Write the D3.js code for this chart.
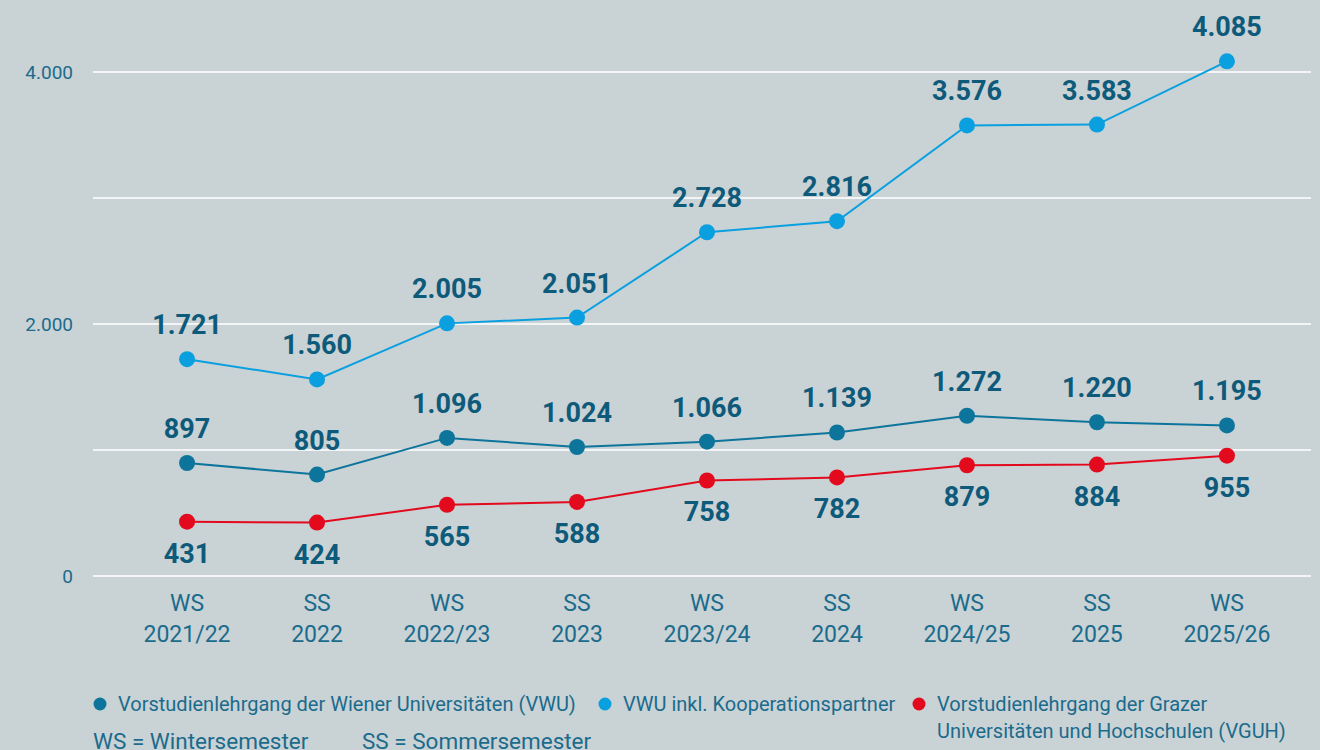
<!DOCTYPE html>
<html>
<head>
<meta charset="utf-8">
<script src="https://cdn.jsdelivr.net/npm/d3@7"></script>
<style>
  html, body { margin: 0; padding: 0; background: #c9d2d5; }
  svg { display: block; font-family: Roboto, "Noto Sans", sans-serif; }
</style>
</head>
<body>
<svg id="chart"></svg>
<script>
const TERMS = ["WS|2021/22", "SS|2022", "WS|2022/23", "SS|2023", "WS|2023/24", "SS|2024", "WS|2024/25", "SS|2025", "WS|2025/26"];
const VWU = [897, 805, 1096, 1024, 1066, 1139, 1272, 1220, 1195];
const VWU_KOOP = [1721, 1560, 2005, 2051, 2728, 2816, 3576, 3583, 4085];
const VGUH = [431, 424, 565, 588, 758, 782, 879, 884, 955];
const Y_TICKS = [0, 2000, 4000];
const GRID_TICKS = [0, 1000, 2000, 3000, 4000];

const width = 1320, height = 750;
const margin = { top: 72, right: 9, bottom: 174, left: 93 };

const labelColor = "#0d5a7a";
const textColor = "#1b6b8c";

const svg = d3.select("#chart")
  .attr("width", width)
  .attr("height", height);

svg.append("rect").attr("width", width).attr("height", height).attr("fill", "#c9d2d5");

// points sit a little right of the grid centre
const x = d3.scalePoint()
  .domain(TERMS)
  .range([margin.left + 5, width - margin.right + 5])
  .padding(0.685);

const y = d3.scaleLinear()
  .domain([0, 4000])
  .range([height - margin.bottom, margin.top]);

const fmt = d3.formatLocale({ decimal: ",", thousands: ".", grouping: [3], currency: ["", "€"] }).format(",d");

// gridlines
svg.append("g")
  .selectAll("line")
  .data(GRID_TICKS)
  .join("line")
  .attr("x1", margin.left)
  .attr("x2", width - margin.right)
  .attr("y1", d => y(d))
  .attr("y2", d => y(d))
  .attr("stroke", "#ffffff")
  .attr("stroke-width", 1.5);

// y axis labels
svg.append("g")
  .selectAll("text")
  .data(Y_TICKS)
  .join("text")
  .attr("x", 73)
  .attr("y", d => y(d))
  .attr("dy", "0.35em")
  .attr("text-anchor", "end")
  .attr("fill", textColor)
  .style("font-size", "19px")
  .text(d => fmt(d));

// x axis labels, two lines
const xl = svg.append("g")
  .selectAll("text")
  .data(TERMS)
  .join("text")
  .attr("text-anchor", "middle")
  .attr("fill", textColor)
  .style("font-size", "23px");
xl.append("tspan")
  .attr("x", d => x(d))
  .attr("y", 611)
  .text(d => d.split("|")[0]);
xl.append("tspan")
  .attr("x", d => x(d))
  .attr("y", 642)
  .text(d => d.split("|")[1]);

const series = [
  { name: "VWU", values: VWU, color: "#0d759c", labelDy: -25 },
  { name: "VWU_KOOP", values: VWU_KOOP, color: "#0aa0e0", labelDy: -25 },
  { name: "VGUH", values: VGUH, color: "#e30a1d", labelDy: 41 }
];

const line = d3.line()
  .x((d, i) => x(TERMS[i]))
  .y(d => y(d));

series.forEach(s => {
  const g = svg.append("g");
  g.append("path")
    .datum(s.values)
    .attr("fill", "none")
    .attr("stroke", s.color)
    .attr("stroke-width", 2)
    .attr("d", line);
  g.selectAll("circle")
    .data(s.values)
    .join("circle")
    .attr("cx", (d, i) => x(TERMS[i]))
    .attr("cy", d => y(d))
    .attr("r", 8)
    .attr("fill", s.color);
  g.selectAll("text")
    .data(s.values)
    .join("text")
    .attr("x", (d, i) => x(TERMS[i]))
    .attr("y", d => y(d) + s.labelDy)
    .attr("text-anchor", "middle")
    .attr("fill", labelColor)
    .style("font-size", "27px")
    .style("font-weight", "bold")
    .text(d => fmt(d));
});

// legend
const legendItems = [
  { cx: 100, lines: ["Vorstudienlehrgang der Wiener Universitäten (VWU)"], color: "#0d759c" },
  { cx: 605, lines: ["VWU inkl. Kooperationspartner"], color: "#0aa0e0" },
  { cx: 919, lines: ["Vorstudienlehrgang der Grazer", "Universitäten und Hochschulen (VGUH)"], color: "#e30a1d" }
];
const legend = svg.append("g");
legendItems.forEach(item => {
  legend.append("circle")
    .attr("cx", item.cx)
    .attr("cy", 704)
    .attr("r", 6.5)
    .attr("fill", item.color);
  const t = legend.append("text")
    .attr("fill", textColor)
    .style("font-size", "20px");
  item.lines.forEach((l, i) => {
    t.append("tspan")
      .attr("x", item.cx + 18)
      .attr("y", 711 + i * 27)
      .text(l);
  });
});

svg.append("text")
  .attr("x", 93)
  .attr("y", 749)
  .attr("fill", textColor)
  .style("font-size", "22.5px")
  .text("WS = Wintersemester");
svg.append("text")
  .attr("x", 362)
  .attr("y", 749)
  .attr("fill", textColor)
  .style("font-size", "22.5px")
  .text("SS = Sommersemester");
</script>
</body>
</html>
